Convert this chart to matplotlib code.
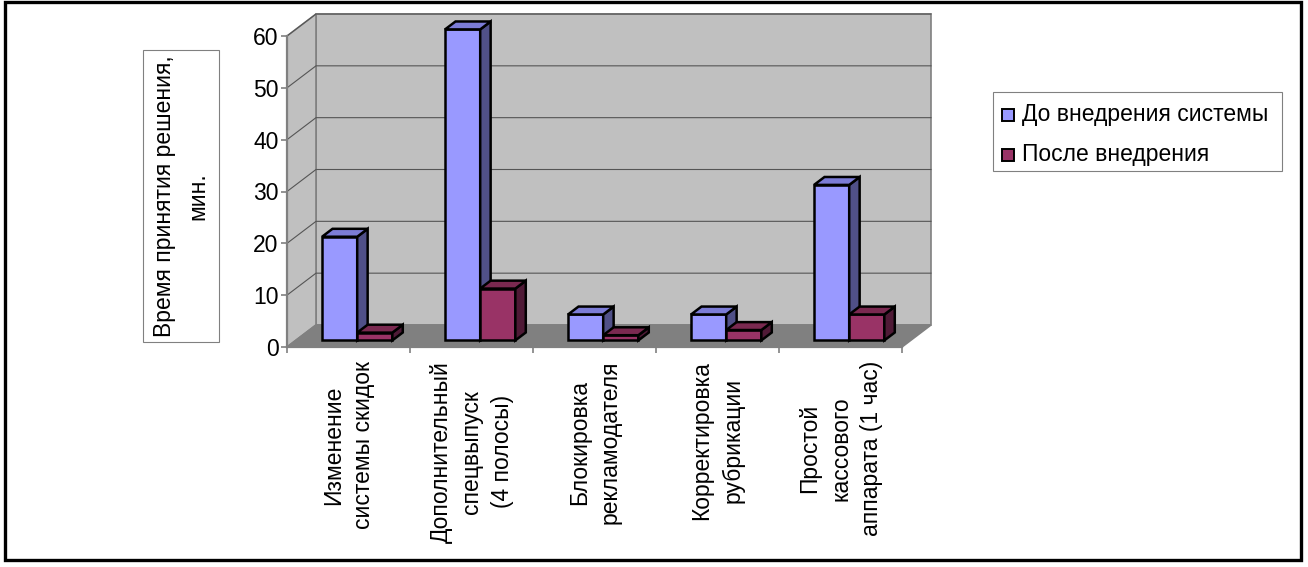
import matplotlib
matplotlib.use('Agg')
import matplotlib.pyplot as plt
from matplotlib.patches import Polygon, Rectangle

plt.rcParams['font.family'] = ['Liberation Sans', 'DejaVu Sans']

categories = ['Изменение\nсистемы скидок',
              'Дополнительный\nспецвыпуск\n(4 полосы)',
              'Блокировка\nрекламодателя',
              'Корректировка\nрубрикации',
              'Простой\nкассового\nаппарата (1 час)']
before = [20, 60, 5, 5, 30]
after = [1.5, 10, 1, 2, 5]
series_names = ['До внедрения системы', 'После внедрения']
y_ticks = [0, 10, 20, 30, 40, 50, 60]
y_title = 'Время принятия решения,\nмин.'

# colours: front, side, top
blue = ('#9999ff', '#505088', '#7c7cd6')
red = ('#993366', '#4f1a36', '#7a2950')

W, H = 1308, 567
fig = plt.figure(figsize=(W / 100, H / 100), dpi=100)
fs = 16.5

def fx(px):
    return px / W

def fy(py):
    return 1 - py / H

# front plane of the 3d box
left, right, bot, top = 287, 902, 347, 36
ax = fig.add_axes([fx(left), fy(bot), fx(right) - fx(left), fy(top) - fy(bot)])
ax.set_xlim(0, len(categories))
ax.set_ylim(0, 60)
ax.patch.set_visible(False)

# depth of the box in data units (29px right, 22px up)
px_cat = (right - left) / len(categories)
px_val = (bot - top) / 60.0
DX = 29 / px_cat
DY = 22 / px_val
n = len(categories)
ymax = 60

wall_c = '#c0c0c0'
floor_c = '#808080'
edge_c = '#808080'

back = Polygon([(DX, DY), (n + DX, DY), (n + DX, ymax + DY), (DX, ymax + DY)],
               closed=True, facecolor=wall_c, edgecolor=edge_c, lw=1.2, clip_on=False, zorder=1)
side = Polygon([(0, 0), (DX, DY), (DX, ymax + DY), (0, ymax)],
               closed=True, facecolor=wall_c, edgecolor=edge_c, lw=1.2, clip_on=False, zorder=1)
floor = Polygon([(0, 0), (n, 0), (n + DX, DY), (DX, DY)],
                closed=True, facecolor=floor_c, edgecolor=edge_c, lw=1.2, clip_on=False, zorder=1)
ax.add_patch(back)
ax.add_patch(side)
ax.add_patch(floor)

for v in y_ticks[1:]:
    ax.plot([0, DX, n + DX], [v, v + DY, v + DY], color='#555555', lw=0.8,
            clip_on=False, zorder=1.5)

# bars
w = 1 / 3.5
gap = 0.75 * w
f1, f2 = 0.3, 0.66
ox, oy = f1 * DX, f1 * DY
ddx, ddy = (f2 - f1) * DX, (f2 - f1) * DY
z = 3
for i in range(n):
    for s, (vals, cols) in enumerate([(before, blue), (after, red)]):
        v = vals[i]
        x0 = i + gap + s * w + ox
        ax.bar(x0, v, width=w, bottom=oy, align='edge', color=cols[0],
               edgecolor='black', lw=1.8, clip_on=False, zorder=z)
        x1 = x0 + w
        ax.add_patch(Polygon([(x1, oy), (x1 + ddx, oy + ddy), (x1 + ddx, oy + v + ddy), (x1, oy + v)],
                             closed=True, facecolor=cols[1], edgecolor='black', lw=1.8,
                             clip_on=False, zorder=z))
        ax.add_patch(Polygon([(x0, oy + v), (x1, oy + v), (x1 + ddx, oy + v + ddy), (x0 + ddx, oy + v + ddy)],
                             closed=True, facecolor=cols[2], edgecolor='black', lw=1.8,
                             clip_on=False, zorder=z))
        z += 1

# axes
for sp in ['top', 'right']:
    ax.spines[sp].set_visible(False)
for sp in ['left', 'bottom']:
    ax.spines[sp].set_color(edge_c)
    ax.spines[sp].set_linewidth(1.6)
    ax.spines[sp].set_zorder(2)
ax.set_yticks(y_ticks)
ax.set_yticklabels([str(t) for t in y_ticks], fontsize=fs)
ax.tick_params(axis='y', length=4, width=1.2, color=edge_c, pad=2)
ax.set_xticks(range(n + 1))
ax.set_xticklabels([])
ax.tick_params(axis='x', which='major', length=4, width=1.2, color=edge_c)
ax.set_xticks([i + 0.5 for i in range(n)], minor=True)
ax.set_xticklabels(categories, minor=True, rotation=90, fontsize=fs,
                   va='top', ha='center', multialignment='center', linespacing=1.42)
ax.tick_params(axis='x', which='minor', length=0, pad=10)

# y title in a box
fig.patches.append(Rectangle((fx(143), fy(342)), (219 - 143) / W, (342 - 50) / H,
                             transform=fig.transFigure, fill=False, edgecolor='#808080', lw=0.8))
fig.text(fx(181), fy(196), y_title, rotation=90, ha='center', va='center',
         multialignment='center', fontsize=fs, linespacing=1.55)

# legend
fig.patches.append(Rectangle((fx(993), fy(171)), (1282 - 993) / W, (171 - 92) / H,
                             transform=fig.transFigure, fill=False, edgecolor='#808080', lw=0.8))
for k, (name, cols) in enumerate(zip(series_names, [blue, red])):
    yc = [115, 155][k]
    fig.patches.append(Rectangle((fx(1002), fy(yc + 6)), 12 / W, 12 / H,
                                 transform=fig.transFigure, facecolor=cols[0],
                                 edgecolor='black', lw=1.4))
    fig.text(fx(1022), fy(yc - 1), name, ha='left', va='center', fontsize=fs)

# outer frame
fig.patches.append(Rectangle((fx(5), fy(560)), (1301 - 5) / W, (560 - 2) / H,
                             transform=fig.transFigure, fill=False, edgecolor='black', lw=2.4))

fig.savefig('out.png', dpi=100)
